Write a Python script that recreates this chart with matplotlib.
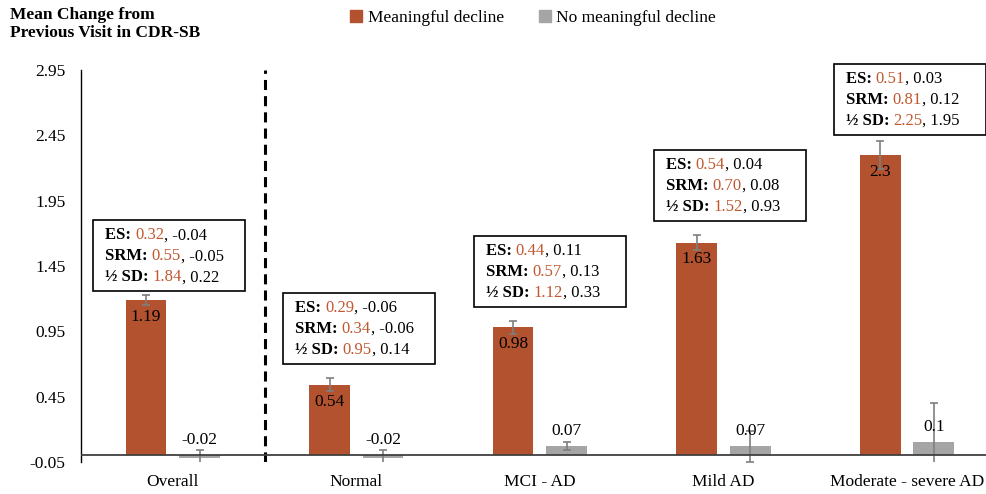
import numpy as np
import matplotlib.pyplot as plt
from matplotlib.patches import Rectangle, Patch

plt.rcParams['font.family'] = ['Liberation Serif', 'DejaVu Serif']

categories = ['Overall', 'Normal', 'MCI - AD', 'Mild AD', 'Moderate - severe AD']
decline = [1.19, 0.54, 0.98, 1.63, 2.3]
decline_err = [0.04, 0.05, 0.05, 0.06, 0.11]
no_decline = [-0.02, -0.02, 0.07, 0.07, 0.1]
no_decline_err = [0.06, 0.06, 0.03, 0.12, 0.3]

# effect size stats: (meaningful decline, no meaningful decline)
es_decline = [0.32, 0.29, 0.44, 0.54, 0.51]
es_no = [-0.04, -0.06, 0.11, 0.04, 0.03]
srm_decline = [0.55, 0.34, 0.57, 0.70, 0.81]
srm_no = [-0.05, -0.06, 0.13, 0.08, 0.12]
halfsd_decline = [1.84, 0.95, 1.12, 1.52, 2.25]
halfsd_no = [0.22, 0.14, 0.33, 0.93, 1.95]

yticks = [-0.05, 0.45, 0.95, 1.45, 1.95, 2.45, 2.95]

red = '#B3522F'
red_txt = '#C0572F'
grey = '#A5A5A5'
err_col = '#7F7F7F'

fig = plt.figure(figsize=(9.87, 4.94), dpi=100)
# plot area runs slightly past the right edge, like the original
ax = fig.add_axes([0.082, 0.065, 0.930, 0.793])

x = np.arange(len(categories))
w = 0.222
off = 0.146
ax.bar(x - off, decline, w, color=red, zorder=2)
ax.bar(x + off, no_decline, w, color=grey, zorder=2)
ax.errorbar(x - off, decline, yerr=decline_err, fmt='none', ecolor=err_col,
            elinewidth=1.2, capsize=3, capthick=1.2, zorder=3)
ax.errorbar(x + off, no_decline, yerr=no_decline_err, fmt='none', ecolor=err_col,
            elinewidth=1.2, capsize=3, capthick=1.2, zorder=3)

for xi, v in zip(x - off, decline):
    ax.annotate(f'{v:g}', (xi, v), xytext=(0, -12), textcoords='offset points',
                ha='center', va='center', fontsize=12.5, zorder=4)
for xi, v in zip(x + off, no_decline):
    ax.annotate(f'{v:g}', (xi, max(v, 0)), xytext=(0, 11), textcoords='offset points',
                ha='center', va='center', fontsize=12.5, zorder=4)

ax.axhline(0, color='#404040', lw=1.3, zorder=3)
ax.axvline(0.5, color='black', lw=2.2, ls=(0, (3.3, 2.0)), zorder=1)

ax.set_xlim(-0.5, 4.5)
ax.set_ylim(-0.05, 2.95)
ax.set_yticks(yticks)
ax.set_yticklabels([f'{t:.2f}' for t in yticks], fontsize=12.5)
ax.set_xticks(x)
ax.set_xticklabels(categories, fontsize=12.5)
ax.tick_params(axis='y', length=0, pad=11)
ax.tick_params(axis='x', length=0, pad=9)
for s in ['top', 'right', 'bottom']:
    ax.spines[s].set_visible(False)
ax.spines['left'].set_color('black')
ax.spines['left'].set_linewidth(1.0)

# annotation boxes
box_left = [-0.435, -0.40, -0.36, -0.38, -0.40]
box_top = [1.80, 1.245, 1.68, 2.34, 3.0]
box_w, box_h = 0.83, 0.543
line_dy = [0.115, 0.276, 0.436]
rows = [('ES: ', es_decline, es_no), ('SRM: ', srm_decline, srm_no),
        ('\u00bd SD: ', halfsd_decline, halfsd_no)]
for i in range(len(categories)):
    left = x[i] + box_left[i]
    top = box_top[i]
    rect = Rectangle((left, top - box_h), box_w, box_h, facecolor='white',
                     edgecolor='black', lw=1.2, zorder=5, clip_on=False)
    ax.add_patch(rect)
    for dy, (lab, dvals, nvals) in zip(line_dy, rows):
        t = ax.text(left + 0.065, top - dy, lab, fontsize=12, fontweight='bold',
                    va='center', ha='left', zorder=6)
        t = ax.annotate(f'{dvals[i]:.2f}', xy=(1, 0), xycoords=t, va='bottom',
                        ha='left', fontsize=12, color=red_txt, zorder=6)
        ax.annotate(f', {nvals[i]:.2f}', xy=(1, 0), xycoords=t, va='bottom',
                    ha='left', fontsize=12, zorder=6)

fig.text(0.01, 0.985, 'Mean Change from\nPrevious Visit in CDR-SB', fontsize=12.5,
         fontweight='bold', va='top', ha='left', linespacing=1.1)

handles = [Patch(color=red), Patch(color=grey)]
fig.legend(handles, ['Meaningful decline', 'No meaningful decline'], loc='center',
           bbox_to_anchor=(0.54, 0.963), ncol=2, frameon=False, fontsize=12.5,
           handlelength=0.7, handleheight=0.7, handletextpad=0.3, columnspacing=2.0)

fig.savefig('out.png', dpi=100)
